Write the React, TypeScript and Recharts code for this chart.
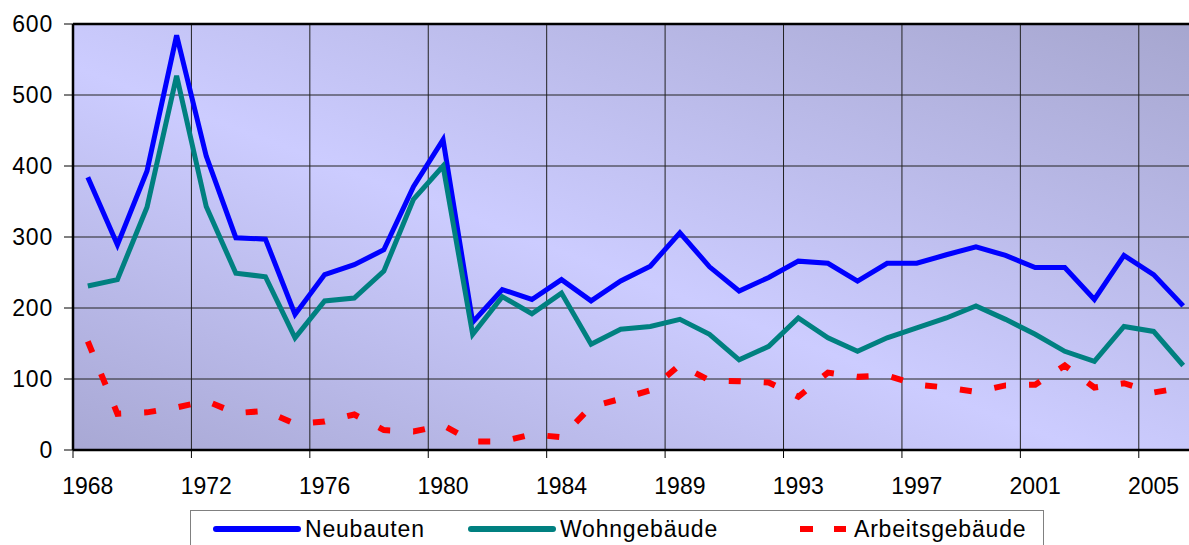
import React from 'react';
import {
  LineChart,
  Line,
  XAxis,
  YAxis,
  CartesianGrid,
  ReferenceLine,
} from 'recharts';

const years = [
  1968, 1969, 1970, 1971, 1972, 1973, 1974, 1975, 1976, 1977, 1978, 1979, 1980,
  1981, 1982, 1983, 1984, 1986, 1987, 1988, 1989, 1990, 1991, 1992, 1993, 1994,
  1995, 1996, 1997, 1998, 1999, 2000, 2001, 2002, 2003, 2004, 2005, 2006,
];

const neubauten = [
  384, 289, 393, 584, 414, 299, 297, 191, 247, 261, 282, 371, 437,
  180, 226, 212, 240, 210, 238, 259, 306, 258, 224, 243, 266, 263,
  238, 263, 263, 275, 286, 274, 257, 257, 212, 274, 247, 203,
];

const wohngebaeude = [
  231, 240, 342, 527, 343, 249, 244, 158, 210, 214, 252, 353, 400,
  163, 216, 192, 221, 149, 170, 174, 184, 163, 127, 146, 186, 158,
  139, 158, 172, 186, 203, 184, 163, 139, 125, 174, 167, 119,
];

const arbeitsgebaeude = [
  153, 51, 53, 60, 69, 52, 55, 37, 40, 50, 28, 26, 35,
  12, 12, 22, 18, 61, 72, 84, 120, 98, 97, 95, 75, 109,
  103, 105, 92, 88, 82, 91, 92, 119, 88, 94, 81, 88,
];

const yTicks = [0, 100, 200, 300, 400, 500, 600];

const series = [
  { key: 'neubauten', name: 'Neubauten', color: '#0000ff', dash: undefined as string | undefined },
  { key: 'wohn', name: 'Wohngebäude', color: '#008080', dash: undefined as string | undefined },
  { key: 'arbeit', name: 'Arbeitsgebäude', color: '#ff0000', dash: '12 23' },
];

const data = years.map((year, i) => ({
  idx: i,
  year,
  neubauten: neubauten[i],
  wohn: wohngebaeude[i],
  arbeit: arbeitsgebaeude[i],
}));

// gridlines / tick marks sit on category boundaries, labels every 4th category
const boundaryTicks = years
  .map((_, i) => i - 0.5)
  .filter((_, i) => i % 4 === 0 && i < years.length - 1);

const FONT = '"Liberation Sans", Arial, sans-serif';
const CHART_W = 1198;
const Y_W = 73;
const HALF_STEP = (CHART_W - Y_W) / years.length / 2;

const XTick = (props: any) => {
  const { x, y, payload } = props;
  const i = Math.round(payload.value + 0.5);
  return (
    <text
      x={x + HALF_STEP}
      y={y}
      dy={16}
      textAnchor="middle"
      fill="#000"
      fontSize={23}
      fontFamily={FONT}
    >
      {years[i]}
    </text>
  );
};

const LegendBox = () => {
  const starts = [213, 468, 800];
  return (
    <div
      style={{
        position: 'absolute',
        left: 190,
        top: 510,
        width: 852,
        height: 44,
        border: '1px solid #808080',
        background: '#fff',
        fontFamily: FONT,
        fontSize: 23,
        letterSpacing: 0.8,
      }}
    >
      {series.map((s, i) => (
        <div
          key={s.key}
          style={{
            position: 'absolute',
            left: starts[i] - 191,
            top: 3,
            display: 'flex',
            alignItems: 'center',
            height: 30,
          }}
        >
          <svg width={88} height={10} style={{ marginRight: 4 }}>
            {s.dash ? (
              <line x1={0} y1={5} x2={46} y2={5} stroke={s.color} strokeWidth={6} strokeDasharray="13 21" />
            ) : (
              <line x1={3} y1={5} x2={85} y2={5} stroke={s.color} strokeWidth={6} strokeLinecap="round" />
            )}
          </svg>
          {s.dash ? <span style={{ marginLeft: -38 }}>{s.name}</span> : <span>{s.name}</span>}
        </div>
      ))}
    </div>
  );
};

export default function App() {
  return (
    <div
      style={{
        position: 'fixed',
        left: 0,
        top: 0,
        width: 1189,
        height: 545,
        overflow: 'hidden',
        background: '#fff',
      }}
    >
      <LineChart
        width={CHART_W}
        height={545}
        data={data}
        margin={{ top: 24, right: 0, left: 0, bottom: 55 }}
      >
        <defs>
          <linearGradient id="plotBg" x1="0" y1="1" x2="1" y2="0">
            <stop offset="0%" stopColor="#a8a8d4" />
            <stop offset="45%" stopColor="#ccccff" />
            <stop offset="100%" stopColor="#a6a6cf" />
          </linearGradient>
        </defs>
        <CartesianGrid fill="url(#plotBg)" stroke="#222" strokeWidth={1} />
        <XAxis
          dataKey="idx"
          type="number"
          domain={[-0.5, years.length - 0.5]}
          ticks={boundaryTicks}
          interval={0}
          height={40}
          tickSize={8}
          tickMargin={20}
          tick={<XTick />}
          tickLine={{ stroke: '#000' }}
          axisLine={{ stroke: '#000', strokeWidth: 2.5 }}
        />
        <YAxis
          domain={[0, 600]}
          ticks={yTicks}
          width={Y_W}
          tickSize={9}
          tickMargin={11}
          tick={{ fill: '#000', fontSize: 23, fontFamily: FONT, letterSpacing: 0.8 }}
          tickLine={{ stroke: '#000' }}
          axisLine={{ stroke: '#000', strokeWidth: 2.5 }}
        />
        <ReferenceLine y={600} stroke="#000" strokeWidth={2.5} />
        {series.map((s) => (
          <Line
            key={s.key}
            dataKey={s.key}
            name={s.name}
            type="linear"
            stroke={s.color}
            strokeWidth={s.dash ? 6 : 5}
            strokeDasharray={s.dash}
            strokeLinejoin="miter"
            dot={false}
            activeDot={false}
            isAnimationActive={false}
          />
        ))}
      </LineChart>
      <LegendBox />
    </div>
  );
}
